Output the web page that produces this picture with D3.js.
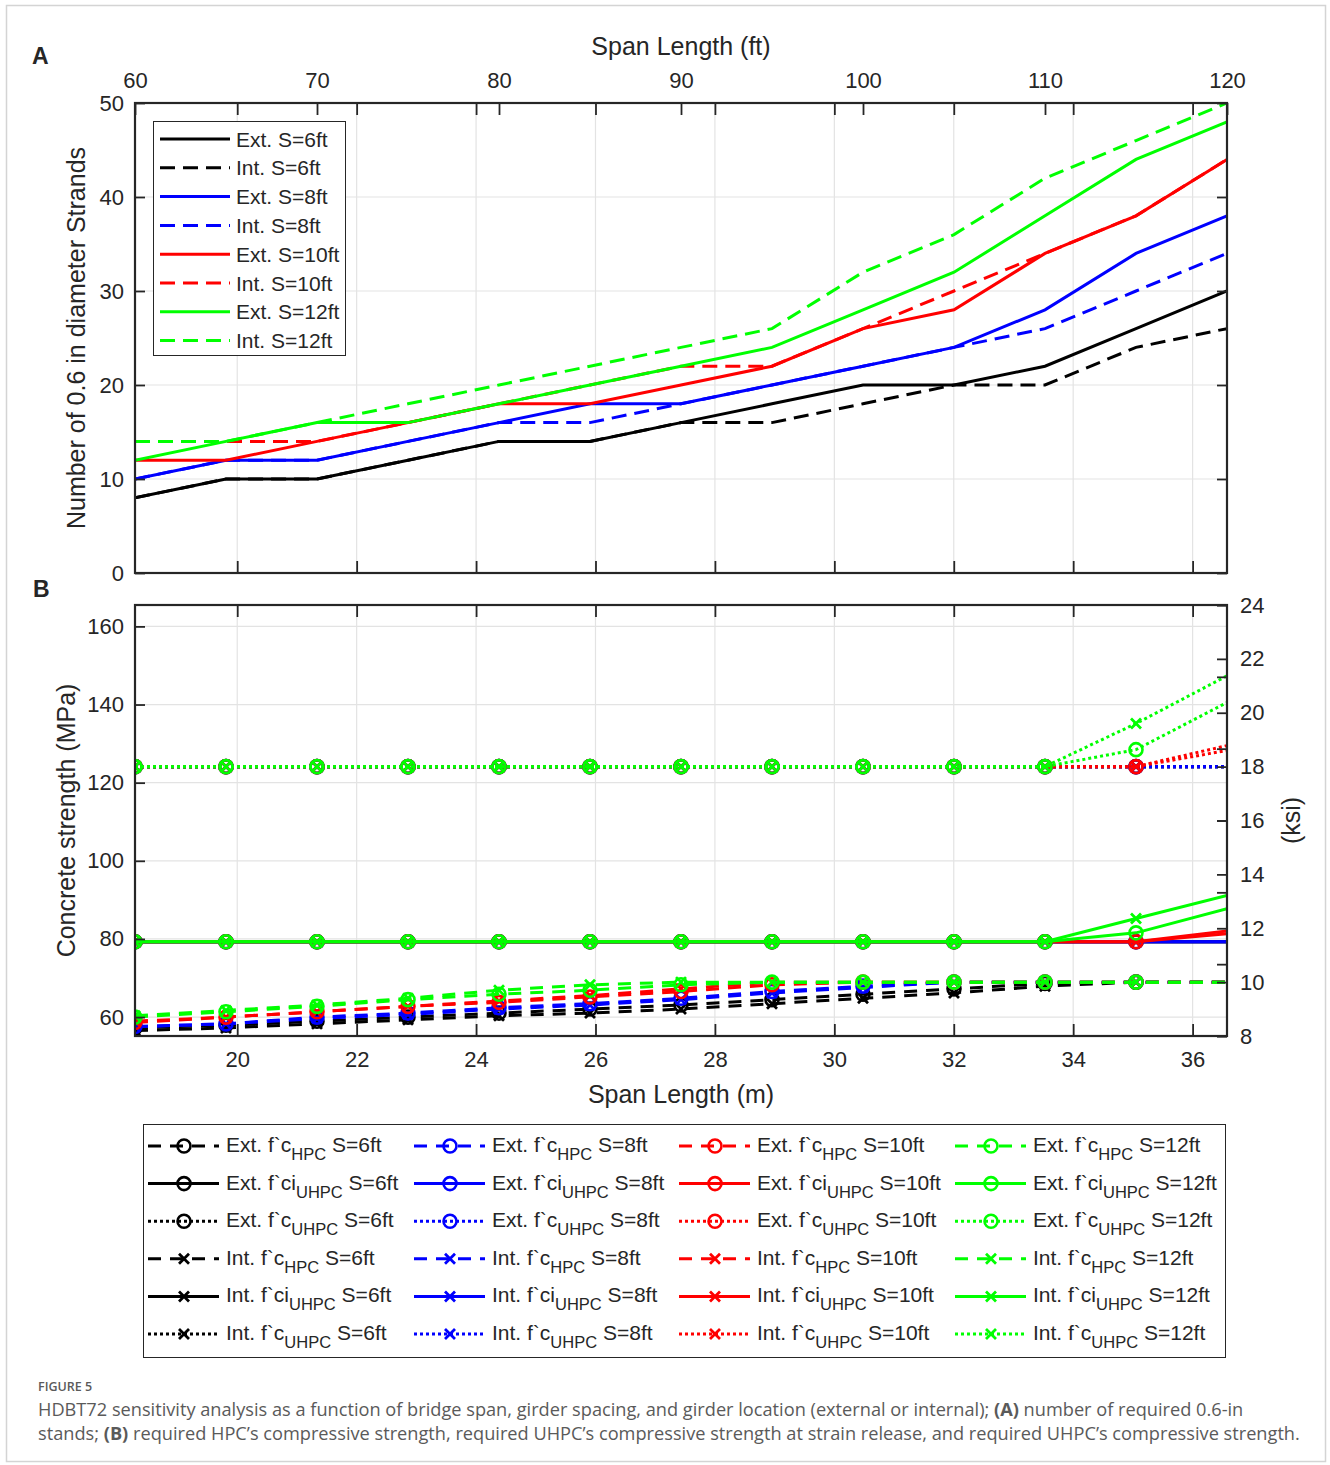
<!DOCTYPE html>
<html>
<head>
<meta charset="utf-8">
<script src="https://cdn.jsdelivr.net/npm/d3@7"></script>
<style>
  body { margin: 0; background: #fff; }
  svg text { font-family: "Liberation Sans", Arial, sans-serif; fill: #262626; }
  .caption text { font-family: "Open Sans", "Noto Sans", sans-serif; }
</style>
</head>
<body>
<svg id="fig" width="1330" height="1465"></svg>
<script>
// ---- data (span in ft) ----
const spanFt = [60, 65, 70, 75, 80, 85, 90, 95, 100, 105, 110, 115, 120];
const spacings = ["6ft", "8ft", "10ft", "12ft"];
const spacingColors = ["#000000", "#0000ff", "#ff0000", "#00ff00"];

// panel A: number of 0.6 in strands
const strandsExtS6  = [8, 10, 10, 12, 14, 14, 16, 18, 20, 20, 22, 26, 30];
const strandsIntS6  = [8, 10, 10, 12, 14, 14, 16, 16, 18, 20, 20, 24, 26];
const strandsExtS8  = [10, 12, 12, 14, 16, 18, 18, 20, 22, 24, 28, 34, 38];
const strandsIntS8  = [10, 12, 12, 14, 16, 16, 18, 20, 22, 24, 26, 30, 34];
const strandsExtS10 = [12, 12, 14, 16, 18, 18, 20, 22, 26, 28, 34, 38, 44];
const strandsIntS10 = [14, 14, 14, 16, 18, 20, 22, 22, 26, 30, 34, 38, 44];
const strandsExtS12 = [12, 14, 16, 16, 18, 20, 22, 24, 28, 32, 38, 44, 48];
const strandsIntS12 = [14, 14, 16, 18, 20, 22, 24, 26, 32, 36, 42, 46, 50];

// panel B: strengths in ksi
const hpcExtS6  = [8.3, 8.4, 8.55, 8.7, 8.85, 9.0, 9.15, 9.35, 9.55, 9.75, 9.95, 10, 10];
const hpcIntS6  = [8.2, 8.3, 8.45, 8.6, 8.75, 8.85, 9.0, 9.2, 9.4, 9.6, 9.85, 10, 10];
const hpcExtS8  = [8.35, 8.45, 8.7, 8.85, 9.05, 9.2, 9.4, 9.65, 9.85, 10, 10, 10, 10];
const hpcIntS8  = [8.35, 8.45, 8.65, 8.8, 9.0, 9.15, 9.35, 9.6, 9.8, 10, 10, 10, 10];
const hpcExtS10 = [8.5, 8.7, 8.9, 9.1, 9.25, 9.45, 9.65, 9.9, 10, 10, 10, 10, 10];
const hpcIntS10 = [8.55, 8.7, 8.9, 9.1, 9.3, 9.5, 9.75, 10, 10, 10, 10, 10, 10];
const hpcExtS12 = [8.7, 8.9, 9.1, 9.35, 9.55, 9.7, 9.9, 10, 10, 10, 10, 10, 10];
const hpcIntS12 = [8.75, 8.95, 9.15, 9.4, 9.7, 9.9, 10, 10, 10, 10, 10, 10, 10];

const fciExtS6  = [11.5, 11.5, 11.5, 11.5, 11.5, 11.5, 11.5, 11.5, 11.5, 11.5, 11.5, 11.5, 11.5];
const fciIntS6  = [11.5, 11.5, 11.5, 11.5, 11.5, 11.5, 11.5, 11.5, 11.5, 11.5, 11.5, 11.5, 11.5];
const fciExtS8  = [11.5, 11.5, 11.5, 11.5, 11.5, 11.5, 11.5, 11.5, 11.5, 11.5, 11.5, 11.5, 11.5];
const fciIntS8  = [11.5, 11.5, 11.5, 11.5, 11.5, 11.5, 11.5, 11.5, 11.5, 11.5, 11.5, 11.5, 11.5];
const fciExtS10 = [11.5, 11.5, 11.5, 11.5, 11.5, 11.5, 11.5, 11.5, 11.5, 11.5, 11.5, 11.5, 11.9];
const fciIntS10 = [11.5, 11.5, 11.5, 11.5, 11.5, 11.5, 11.5, 11.5, 11.5, 11.5, 11.5, 11.5, 11.8];
const fciExtS12 = [11.5, 11.5, 11.5, 11.5, 11.5, 11.5, 11.5, 11.5, 11.5, 11.5, 11.5, 11.83, 12.73];
const fciIntS12 = [11.5, 11.5, 11.5, 11.5, 11.5, 11.5, 11.5, 11.5, 11.5, 11.5, 11.5, 12.36, 13.22];

const fcUExtS6  = [18, 18, 18, 18, 18, 18, 18, 18, 18, 18, 18, 18, 18];
const fcUIntS6  = [18, 18, 18, 18, 18, 18, 18, 18, 18, 18, 18, 18, 18];
const fcUExtS8  = [18, 18, 18, 18, 18, 18, 18, 18, 18, 18, 18, 18, 18];
const fcUIntS8  = [18, 18, 18, 18, 18, 18, 18, 18, 18, 18, 18, 18, 18];
const fcUExtS10 = [18, 18, 18, 18, 18, 18, 18, 18, 18, 18, 18, 18, 18.78];
const fcUIntS10 = [18, 18, 18, 18, 18, 18, 18, 18, 18, 18, 18, 18, 18.6];
const fcUExtS12 = [18, 18, 18, 18, 18, 18, 18, 18, 18, 18, 18, 18.63, 20.38];
const fcUIntS12 = [18, 18, 18, 18, 18, 18, 18, 18, 18, 18, 18, 19.6, 21.37];

// ticks
const strandTicks = [0, 10, 20, 30, 40, 50];
const ftTicks = [60, 70, 80, 90, 100, 110, 120];
const meterTicks = [20, 22, 24, 26, 28, 30, 32, 34, 36];
const mpaTicks = [60, 80, 100, 120, 140, 160];
const ksiTicks = [8, 10, 12, 14, 16, 18, 20, 22, 24];
const rightMinorTicks = [0, 1, 2, 3, 4, 5, 6]; // extra unlabeled ticks on the right of B

const FT_TO_M = 0.3048, KSI_TO_MPA = 6.894757;

// ---- setup ----
const svg = d3.select("#fig");
const L = 135, R = 1227;
const A = { top: 103, bottom: 573 };
const B = { top: 605, bottom: 1036 };
const TICK_FONT = 22, TITLE_FONT = 25;

svg.append("rect").attr("x", 6.5).attr("y", 5.5).attr("width", 1319).attr("height", 1456)
  .attr("fill", "#fff").attr("stroke", "#d4d4d4").attr("stroke-width", 1.5);

const xFt = d3.scaleLinear().domain([60, 120]).range([L, R]);
const xM = d3.scaleLinear().domain([60 * FT_TO_M, 120 * FT_TO_M]).range([L, R]);
const yA = d3.scaleLinear().domain([0, 50]).range([A.bottom, A.top]);
const yKsi = d3.scaleLinear().domain([8, 24]).range([B.bottom, B.top]);
const yMpa = d3.scaleLinear().domain([8 * KSI_TO_MPA, 24 * KSI_TO_MPA]).range([B.bottom, B.top]);
const yMinor = d3.scaleLinear().domain([0, 6]).range([B.bottom, B.top]);

const defs = svg.append("defs");
defs.append("clipPath").attr("id", "clipA").append("rect")
  .attr("x", L).attr("y", A.top).attr("width", R - L).attr("height", A.bottom - A.top);
defs.append("clipPath").attr("id", "clipB").append("rect")
  .attr("x", L).attr("y", B.top).attr("width", R - L).attr("height", B.bottom - B.top);

function styleAxis(g) {
  g.select(".domain").remove();
  g.selectAll(".tick line").attr("stroke", "#262626").attr("stroke-width", 1.8);
  g.selectAll(".tick text").attr("font-size", TICK_FONT).attr("fill", "#262626")
    .attr("font-family", "Liberation Sans, Arial, sans-serif");
}

function grid(g, top, bottom, yScale, yVals) {
  const gg = g.append("g").attr("stroke", "#e3e3e3").attr("stroke-width", 1.2);
  meterTicks.forEach(m => gg.append("line").attr("x1", xM(m)).attr("x2", xM(m))
    .attr("y1", top).attr("y2", bottom));
  yVals.forEach(v => gg.append("line").attr("x1", L).attr("x2", R)
    .attr("y1", yScale(v)).attr("y2", yScale(v)));
}

// ================= Panel A =================
const gA = svg.append("g");
grid(gA, A.top, A.bottom, yA, strandTicks.slice(1, -1));

const seriesA = [];
[[strandsExtS6, strandsIntS6], [strandsExtS8, strandsIntS8],
 [strandsExtS10, strandsIntS10], [strandsExtS12, strandsIntS12]].forEach((pair, i) => {
  seriesA.push({ label: "Ext. S=" + spacings[i], values: pair[0], color: spacingColors[i], dash: null });
  seriesA.push({ label: "Int. S=" + spacings[i], values: pair[1], color: spacingColors[i], dash: "15,8" });
});

const lineA = d3.line().x((d, i) => xFt(spanFt[i])).y(d => yA(d));
gA.append("g").attr("clip-path", "url(#clipA)").selectAll("path").data(seriesA).join("path")
  .attr("d", d => lineA(d.values))
  .attr("fill", "none").attr("stroke", d => d.color).attr("stroke-width", 3)
  .attr("stroke-dasharray", d => d.dash);

gA.append("g").attr("transform", `translate(${L},0)`)
  .call(d3.axisLeft(yA).tickValues(strandTicks).tickSize(-10).tickPadding(11))
  .call(styleAxis);
gA.append("g").attr("transform", `translate(${R},0)`)
  .call(d3.axisRight(yA).tickValues(strandTicks).tickSize(-10).tickFormat(""))
  .call(styleAxis);
gA.append("g").attr("transform", `translate(0,${A.top})`)
  .call(d3.axisTop(xFt).tickValues(ftTicks).tickSize(-12).tickPadding(15))
  .call(styleAxis);
gA.append("g").attr("transform", `translate(0,${A.top})`)
  .call(d3.axisTop(xM).tickValues(meterTicks).tickSize(-12).tickFormat(""))
  .call(styleAxis);
gA.append("g").attr("transform", `translate(0,${A.bottom})`)
  .call(d3.axisBottom(xM).tickValues(meterTicks).tickSize(-12).tickFormat(""))
  .call(styleAxis);
gA.append("rect").attr("x", L).attr("y", A.top).attr("width", R - L).attr("height", A.bottom - A.top)
  .attr("fill", "none").attr("stroke", "#262626").attr("stroke-width", 2.2);

gA.append("text").attr("x", (L + R) / 2).attr("y", 55).attr("text-anchor", "middle")
  .attr("font-size", TITLE_FONT).text("Span Length (ft)");
gA.append("text").attr("transform", `translate(85,${(A.top + A.bottom) / 2}) rotate(-90)`)
  .attr("text-anchor", "middle").attr("font-size", TITLE_FONT).text("Number of 0.6 in diameter Strands");
svg.append("text").attr("x", 32).attr("y", 64).attr("font-size", 23).attr("font-weight", "bold")
  .attr("fill", "#000").text("A");

// legend A
const legA = gA.append("g");
legA.append("rect").attr("x", 153.5).attr("y", 121.5).attr("width", 192).attr("height", 234)
  .attr("fill", "#fff").attr("stroke", "#262626").attr("stroke-width", 1);
seriesA.forEach((s, i) => {
  const y = 139 + i * 28.8;
  legA.append("line").attr("x1", 160).attr("x2", 230).attr("y1", y).attr("y2", y)
    .attr("stroke", s.color).attr("stroke-width", 3).attr("stroke-dasharray", s.dash);
  legA.append("text").attr("x", 236).attr("y", y).attr("dy", "0.36em")
    .attr("font-size", 21).text(s.label);
});

// ================= Panel B =================
const gB = svg.append("g");
grid(gB, B.top, B.bottom, yMpa, mpaTicks);

const quantities = [
  { key: "hpc", name: "f`c", sub: "HPC", dash: "13,9" },
  { key: "fci", name: "f`ci", sub: "UHPC", dash: null },
  { key: "fcu", name: "f`c", sub: "UHPC", dash: "3,3" }
];
const dataB = [
  { ext: { hpc: hpcExtS6, fci: fciExtS6, fcu: fcUExtS6 }, int: { hpc: hpcIntS6, fci: fciIntS6, fcu: fcUIntS6 } },
  { ext: { hpc: hpcExtS8, fci: fciExtS8, fcu: fcUExtS8 }, int: { hpc: hpcIntS8, fci: fciIntS8, fcu: fcUIntS8 } },
  { ext: { hpc: hpcExtS10, fci: fciExtS10, fcu: fcUExtS10 }, int: { hpc: hpcIntS10, fci: fciIntS10, fcu: fcUIntS10 } },
  { ext: { hpc: hpcExtS12, fci: fciExtS12, fcu: fcUExtS12 }, int: { hpc: hpcIntS12, fci: fciIntS12, fcu: fcUIntS12 } }
];

const seriesB = [];
dataB.forEach((d, i) => {
  ["ext", "int"].forEach(loc => {
    quantities.forEach(q => {
      seriesB.push({
        loc: loc, pre: (loc === "ext" ? "Ext. " : "Int. ") + q.name, sub: q.sub,
        post: " S=" + spacings[i], values: d[loc][q.key],
        color: spacingColors[i], dash: q.dash, marker: loc === "ext" ? "o" : "x"
      });
    });
  });
});

const lineB = d3.line().x((d, i) => xM(spanFt[i] * FT_TO_M)).y(d => yKsi(d));

function drawMarker(g, type, x, y, color) {
  if (type === "o") {
    g.append("circle").attr("cx", x).attr("cy", y).attr("r", 6.5)
      .attr("fill", "none").attr("stroke", color).attr("stroke-width", 2.6);
  } else {
    const s = 5;
    g.append("path").attr("d", `M${x - s},${y - s}L${x + s},${y + s}M${x - s},${y + s}L${x + s},${y - s}`)
      .attr("stroke", color).attr("stroke-width", 2.8).attr("fill", "none");
  }
}

const plotB = gB.append("g").attr("clip-path", "url(#clipB)");
seriesB.forEach(s => {
  const g = plotB.append("g");
  g.append("path").attr("d", lineB(s.values)).attr("fill", "none")
    .attr("stroke", s.color).attr("stroke-width", 3).attr("stroke-dasharray", s.dash);
  s.values.forEach((v, i) => {
    if (i < s.values.length - 1) drawMarker(g, s.marker, xM(spanFt[i] * FT_TO_M), yKsi(v), s.color);
  });
});

gB.append("g").attr("transform", `translate(${L},0)`)
  .call(d3.axisLeft(yMpa).tickValues(mpaTicks).tickSize(-10).tickPadding(11))
  .call(styleAxis);
gB.append("g").attr("transform", `translate(${R},0)`)
  .call(d3.axisRight(yKsi).tickValues(ksiTicks).tickSize(-10).tickPadding(13))
  .call(styleAxis);
gB.append("g").attr("transform", `translate(${R},0)`)
  .call(d3.axisRight(yMinor).tickValues(rightMinorTicks).tickSize(-10).tickFormat(""))
  .call(styleAxis);
gB.append("g").attr("transform", `translate(0,${B.bottom})`)
  .call(d3.axisBottom(xM).tickValues(meterTicks).tickSize(-12).tickPadding(15))
  .call(styleAxis);
gB.append("g").attr("transform", `translate(0,${B.top})`)
  .call(d3.axisTop(xM).tickValues(meterTicks).tickSize(-12).tickFormat(""))
  .call(styleAxis);
gB.append("rect").attr("x", L).attr("y", B.top).attr("width", R - L).attr("height", B.bottom - B.top)
  .attr("fill", "none").attr("stroke", "#262626").attr("stroke-width", 2.2);

gB.append("text").attr("x", (L + R) / 2).attr("y", 1103).attr("text-anchor", "middle")
  .attr("font-size", TITLE_FONT).text("Span Length (m)");
gB.append("text").attr("transform", `translate(75,${(B.top + B.bottom) / 2}) rotate(-90)`)
  .attr("text-anchor", "middle").attr("font-size", TITLE_FONT).text("Concrete strength (MPa)");
gB.append("text").attr("transform", `translate(1300,${(B.top + B.bottom) / 2}) rotate(-90)`)
  .attr("text-anchor", "middle").attr("font-size", TITLE_FONT).text("(ksi)");
svg.append("text").attr("x", 33).attr("y", 597).attr("font-size", 23).attr("font-weight", "bold")
  .attr("fill", "#000").text("B");

// legend B (4 columns, one per spacing)
const legB = svg.append("g");
legB.append("rect").attr("x", 143.5).attr("y", 1124.5).attr("width", 1082).attr("height", 233)
  .attr("fill", "#fff").attr("stroke", "#262626").attr("stroke-width", 1);
const colX = [148, 414, 679, 955];
seriesB.forEach((s, k) => {
  const col = Math.floor(k / 6), row = k % 6;
  const x0 = colX[col], y = 1146 + row * 37.6;
  legB.append("line").attr("x1", x0).attr("x2", x0 + 71).attr("y1", y).attr("y2", y)
    .attr("stroke", s.color).attr("stroke-width", 3).attr("stroke-dasharray", s.dash);
  drawMarker(legB, s.marker, x0 + 36, y, s.color);
  const t = legB.append("text").attr("x", x0 + 78).attr("y", y + 6).attr("font-size", 21);
  t.append("tspan").text(s.pre);
  t.append("tspan").attr("font-size", 16.5).attr("dy", 8).text(s.sub);
  t.append("tspan").attr("dy", -8).text(s.post);
});

// caption
const cap = svg.append("g").attr("class", "caption");
cap.append("text").attr("x", 38).attr("y", 1391).attr("font-size", 12.5).attr("font-weight", 600)
  .style("fill", "#5a5a5a").text("FIGURE 5");
const capLines = [
  [["HDBT72 sensitivity analysis as a function of bridge span, girder spacing, and girder location (external or internal); ", false],
   ["(A)", true], [" number of required 0.6-in", false]],
  [["stands; ", false], ["(B)", true],
   [" required HPC’s compressive strength, required UHPC’s compressive strength at strain release, and required UHPC’s compressive strength.", false]]
];
capLines.forEach((parts, i) => {
  const t = cap.append("text").attr("x", 38).attr("y", 1416 + i * 24).attr("font-size", 18.2)
    .style("fill", "#5a5a5a");
  parts.forEach(p => t.append("tspan").attr("font-weight", p[1] ? 700 : 400).text(p[0]));
});
</script>
</body>
</html>
